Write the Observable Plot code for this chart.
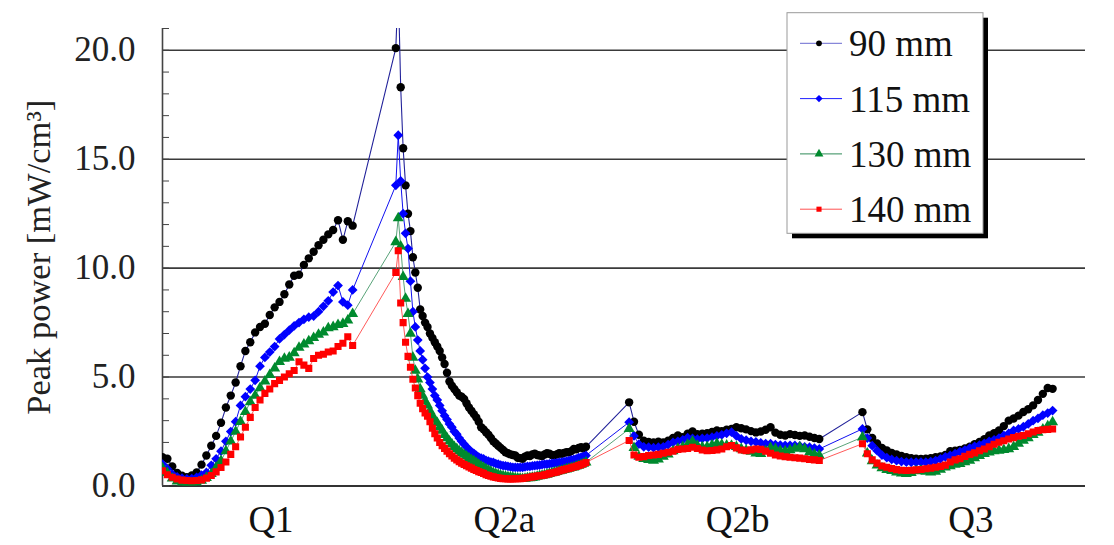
<!DOCTYPE html>
<html><head><meta charset="utf-8">
<script src="https://cdn.jsdelivr.net/npm/d3@7"></script>
<script src="https://cdn.jsdelivr.net/npm/@observablehq/plot@0.6"></script>
<style>html,body{margin:0;padding:0;background:#fff;} #chart svg{display:block}</style>
</head><body><div id="chart"></div>
<script>
const categories = ["Q1", "Q2a", "Q2b", "Q3"];
const series = ["90 mm", "115 mm", "130 mm", "140 mm"];
const yTicks = [0, 5, 10, 15, 20];
const yLabel = "Peak power [mW/cm³]";

// 90 mm
const q1_90 = [1.32,1.25,0.9,0.6,0.47,0.4,0.48,0.62,0.98,1.4,1.85,2.3,2.9,3.6,4.15,4.75,5.5,6.2,6.6,7.05,7.3,7.45,7.85,8.2,8.45,8.8,9.25,9.65,9.7,10.15,10.45,10.75,11.05,11.3,11.55,11.75,12.2,11.3,12.15,11.95];
const q2a_90 = [20.1,23.0,18.3,15.5,13.8,12.5,11.7,10.5,9.8,9.1,8.1,7.8,7.5,7.3,7.0,6.8,6.6,6.4,6.2,5.9,5.6,5.2,4.8,4.6,4.45,4.3,4.15,4.1,4.0,3.8,3.6,3.45,3.3,3.15,2.95,2.7,2.6,2.47,2.35,2.2,2.05,1.95,1.85,1.75,1.65,1.55,1.5,1.45,1.42,1.4,1.3,1.28,1.25,1.35,1.4,1.38,1.45,1.48,1.42,1.4,1.38,1.45,1.5,1.48,1.42,1.4,1.45,1.5,1.48,1.52,1.55,1.55,1.6,1.7,1.68,1.75,1.78,1.72,1.8];
const q2b_90 = [3.84,2.95,2.35,2.08,2.02,2.0,2.03,2.0,2.08,2.2,2.32,2.24,2.4,2.5,2.38,2.4,2.42,2.48,2.55,2.52,2.58,2.62,2.7,2.65,2.6,2.52,2.46,2.5,2.58,2.7,2.45,2.35,2.32,2.38,2.34,2.3,2.32,2.26,2.2,2.16];
const q3_90 = [3.39,2.6,2.2,1.95,1.75,1.63,1.52,1.45,1.38,1.32,1.28,1.25,1.24,1.25,1.28,1.32,1.36,1.42,1.6,1.62,1.66,1.72,1.8,1.92,2.02,2.15,2.32,2.42,2.55,2.75,3.0,3.1,3.23,3.4,3.52,3.7,3.95,4.23,4.5,4.46];
// 115 mm
const q1_115 = [1.0,0.78,0.55,0.42,0.36,0.33,0.34,0.4,0.5,0.62,0.95,1.25,1.6,2.05,2.5,2.95,3.7,4.1,4.45,4.85,5.5,5.9,6.15,6.4,6.75,6.95,7.15,7.35,7.5,7.65,7.75,7.8,8.0,8.25,8.5,8.9,9.2,8.45,8.3,9.0];
const q2a_115 = [13.8,16.1,14.0,12.5,11.6,10.9,9.4,8.0,7.3,6.7,6.2,5.8,5.4,5.0,4.75,4.45,4.15,3.95,3.7,3.45,3.23,3.05,2.85,2.7,2.5,2.38,2.2,2.05,1.92,1.8,1.65,1.58,1.5,1.4,1.33,1.28,1.24,1.18,1.14,1.1,1.08,1.03,1.0,0.96,0.94,0.92,0.9,0.88,0.86,0.86,0.85,0.86,0.86,0.88,0.9,0.9,0.92,0.94,0.95,0.96,0.98,1.0,1.0,1.02,1.04,1.05,1.06,1.08,1.09,1.12,1.14,1.16,1.2,1.22,1.25,1.3,1.32,1.36,1.4];
const q2b_115 = [2.93,2.3,1.92,1.8,1.78,1.76,1.78,1.8,1.9,2.0,2.05,2.12,2.22,2.18,2.15,2.18,2.2,2.24,2.3,2.35,2.42,2.47,2.3,2.16,2.1,2.05,2.02,1.98,1.95,1.94,1.9,1.88,1.86,1.87,1.86,1.84,1.8,1.78,1.74,1.7];
const q3_115 = [2.62,2.2,1.85,1.62,1.42,1.3,1.22,1.16,1.12,1.1,1.09,1.09,1.1,1.09,1.12,1.17,1.25,1.34,1.4,1.48,1.58,1.65,1.74,1.82,1.88,1.96,2.05,2.12,2.2,2.32,2.42,2.55,2.62,2.72,2.85,3.0,3.1,3.25,3.35,3.46];
// 130 mm
const q1_130 = [0.82,0.6,0.35,0.22,0.15,0.12,0.13,0.16,0.25,0.38,0.56,0.85,1.15,1.6,2.05,2.5,2.95,3.4,3.85,4.15,4.5,4.8,5.1,5.4,5.7,5.85,5.9,6.1,6.35,6.5,6.65,6.8,6.95,7.05,7.25,7.3,7.4,7.45,7.6,7.9];
const q2a_130 = [11.2,12.3,11.0,9.6,8.6,7.9,7.0,5.9,5.3,4.9,4.45,4.15,3.9,3.7,3.45,3.2,3.05,2.9,2.7,2.55,2.35,2.2,2.05,1.92,1.8,1.7,1.6,1.52,1.44,1.36,1.28,1.2,1.14,1.06,0.98,0.9,0.84,0.78,0.72,0.66,0.6,0.56,0.52,0.48,0.45,0.43,0.41,0.4,0.38,0.36,0.35,0.34,0.33,0.34,0.36,0.37,0.38,0.4,0.43,0.46,0.48,0.5,0.53,0.56,0.59,0.62,0.65,0.68,0.71,0.74,0.77,0.8,0.83,0.86,0.9,0.94,0.98,1.03,1.09];
const q2b_130 = [2.62,1.75,1.35,1.25,1.2,1.17,1.22,1.35,1.45,1.6,1.72,1.8,1.9,2.05,1.85,1.78,1.8,1.88,1.94,1.9,1.86,1.85,1.8,1.7,1.63,1.58,1.5,1.48,1.6,1.75,1.7,1.62,1.6,1.65,1.72,1.78,1.7,1.55,1.45,1.4];
const q3_130 = [2.24,1.5,1.15,0.95,0.82,0.74,0.7,0.63,0.58,0.56,0.6,0.68,0.71,0.66,0.63,0.66,0.75,0.86,0.92,0.98,1.02,1.1,1.17,1.28,1.38,1.48,1.55,1.6,1.63,1.66,1.7,1.8,1.95,2.09,2.2,2.35,2.45,2.6,2.75,2.93];
// 140 mm
const q1_140 = [0.7,0.52,0.4,0.32,0.27,0.25,0.24,0.25,0.28,0.36,0.48,0.65,0.85,1.1,1.45,1.8,2.25,2.7,3.15,3.6,3.95,4.25,4.45,4.7,4.85,5.0,5.15,5.3,5.7,5.55,5.4,5.85,6.0,6.05,6.15,6.2,6.4,6.55,6.85,6.45];
const q2a_140 = [9.8,10.8,8.4,7.5,6.6,5.95,5.45,4.9,4.5,4.15,3.8,3.55,3.35,3.2,2.95,2.65,2.4,2.2,2.0,1.85,1.72,1.6,1.48,1.38,1.28,1.2,1.12,1.05,0.99,0.93,0.87,0.82,0.76,0.71,0.66,0.62,0.58,0.52,0.48,0.45,0.42,0.39,0.37,0.35,0.33,0.33,0.32,0.32,0.32,0.33,0.33,0.34,0.35,0.37,0.38,0.4,0.42,0.44,0.46,0.47,0.48,0.51,0.54,0.57,0.6,0.62,0.65,0.69,0.72,0.75,0.78,0.8,0.84,0.87,0.9,0.94,0.98,1.02,1.08];
const q2b_140 = [2.09,1.42,1.32,1.35,1.4,1.42,1.45,1.5,1.55,1.6,1.68,1.7,1.72,1.78,1.72,1.65,1.62,1.63,1.66,1.7,1.8,1.86,1.75,1.65,1.62,1.66,1.7,1.68,1.6,1.5,1.42,1.38,1.34,1.32,1.3,1.28,1.25,1.22,1.2,1.17];
const q3_140 = [1.94,1.48,1.2,1.05,0.92,0.86,0.8,0.75,0.72,0.71,0.72,0.74,0.76,0.79,0.82,0.86,0.9,0.96,1.1,1.2,1.25,1.36,1.45,1.52,1.62,1.7,1.8,1.92,2.01,2.08,2.16,2.22,2.28,2.32,2.4,2.48,2.55,2.58,2.6,2.62];

const seriesValues = {
  "90 mm": [q1_90, q2a_90, q2b_90, q3_90],
  "115 mm": [q1_115, q2a_115, q2b_115, q3_115],
  "130 mm": [q1_130, q2a_130, q2b_130, q3_130],
  "140 mm": [q1_140, q2a_140, q2b_140, q3_140]
};

const styles = {
  "90 mm":  {line: "#22229a", lline: "#6a6ad0", fill: "#000000", symbol: "circle",   r: 4.2, sw: 1.1, lsym: d3.symbolCircle, lsize: 26},
  "115 mm": {line: "#1010f0", lline: "#2020ff", fill: "#0000ff", symbol: "diamond2", r: 4.4, sw: 1.0, lsym: d3.symbolDiamond2, lsize: 34},
  "130 mm": {line: "#2e8b57", lline: "#2e8b57", fill: "#008a2e", symbol: "triangle", r: 4.1, sw: 0.8, lsym: d3.symbolTriangle, lsize: 34},
  "140 mm": {line: "#ff3030", lline: "#ff5050", fill: "#ff0000", symbol: "square",   r: 4.0, sw: 0.8, lsym: d3.symbolSquare, lsize: 26}
};

const SPAN = 0.815; // fraction of a category occupied by its samples
const data = [];
series.forEach(s => {
  seriesValues[s].forEach((arr, k) => {
    arr.forEach((v, i) => data.push({series: s, x: k + SPAN * i / (arr.length - 1), y: v}));
  });
});

const labelPos = categories.map((c, k) => k + 0.465);
const labelAt = new Map(labelPos.map((p, k) => [p, categories[k]]));

const marks = [
  Plot.gridY([5, 10, 15, 20], {stroke: "#3a3a3a", strokeOpacity: 1, strokeWidth: 1.6}),
  Plot.ruleY([0], {stroke: "#333", strokeWidth: 2}),
  Plot.ruleX([0], {stroke: "#444", strokeWidth: 1.6}),
  Plot.axisY(d3.range(0, 22), {tickSize: 7, dx: 7, tickFormat: () => "", stroke: "#444", label: null}),
  Plot.axisY(yTicks, {tickSize: 0, tickPadding: 27, tickFormat: d => d.toFixed(1), fontSize: 35, fill: "#222", label: null}),
  Plot.axisX(labelPos, {tickSize: 0, tickPadding: 20, tickFormat: d => labelAt.get(d), fontSize: 37, fill: "#111", label: null}),
  Plot.text([yLabel], {text: d => d, frameAnchor: "left", textAnchor: "middle", rotate: -90, dx: -124, fontSize: 34.5, fill: "#222"})
];
series.forEach(s => {
  const st = styles[s];
  const pts = data.filter(d => d.series === s);
  marks.push(Plot.line(pts, {x: "x", y: "y", stroke: st.line, strokeWidth: st.sw, clip: true}));
  marks.push(Plot.dot(pts, {x: "x", y: "y", symbol: st.symbol, r: st.r, fill: st.fill, stroke: "none", clip: true}));
});

const chart = Plot.plot({
  width: 1114,
  height: 545,
  marginLeft: 162,
  marginRight: 29,
  marginTop: 28,
  marginBottom: 59.5,
  x: {domain: [0, 3.956], axis: null, label: null},
  y: {domain: [0, 21], axis: null, label: null},
  style: {fontFamily: "'Liberation Serif', 'Times New Roman', serif", background: "#fff", overflow: "visible"},
  marks
});
document.getElementById("chart").appendChild(chart);

// Legend (boxed, with drop shadow)
const svg = d3.select(chart);
const lg = svg.append("g").attr("font-family", "'Liberation Serif', 'Times New Roman', serif").attr("text-anchor", "start");
const bx = 787, by = 12.7, bw = 196, bh = 220.6;
lg.append("rect").attr("x", bx + 5).attr("y", by + 5).attr("width", bw).attr("height", bh).attr("fill", "#000");
lg.append("rect").attr("x", bx).attr("y", by).attr("width", bw).attr("height", bh).attr("fill", "#fff").attr("stroke", "#999").attr("stroke-width", 1);
series.forEach((s, j) => {
  const st = styles[s];
  const cy = 43.3 + j * 55.3;
  lg.append("line").attr("x1", 800).attr("x2", 842).attr("y1", cy).attr("y2", cy).attr("stroke", st.lline).attr("stroke-width", 1);
  lg.append("path").attr("d", d3.symbol(st.lsym, st.lsize)()).attr("transform", `translate(819,${cy})`).attr("fill", st.fill);
  lg.append("text").attr("x", 849).attr("y", cy).attr("dy", "0.35em").attr("text-anchor", "start").attr("font-size", 37).attr("fill", "#111").text(s);
});
</script>
</body></html>
